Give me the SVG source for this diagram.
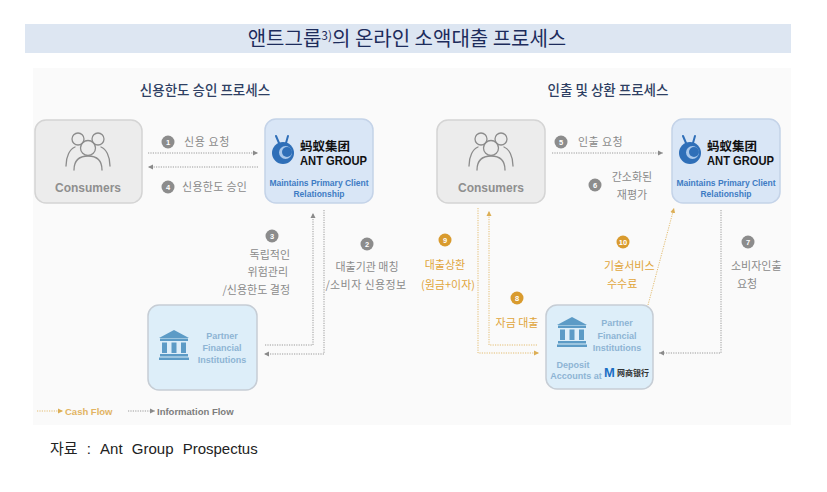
<svg xmlns="http://www.w3.org/2000/svg" xmlns:xlink="http://www.w3.org/1999/xlink" width="827" height="492" viewBox="0 0 827 492">
<style>
.kr{font-family:"Noto Sans CJK KR","Noto Sans",sans-serif}
.en{font-family:"Liberation Sans","Noto Sans CJK KR",sans-serif}
.lbl{font-size:11px;fill:#8a8a8a}
.olbl{font-size:11px;fill:#e0a53a}
.num{font-family:"Liberation Sans",sans-serif;font-size:7.5px;font-weight:bold;fill:#fff;text-anchor:middle}
.gc{fill:#8c8c8c}
.oc{fill:#d99b2e}
.cons{fill:#ececec;stroke:#d4d4d4;stroke-width:1.5}
.ant{fill:#d9e6f6;stroke:#c4d3e8;stroke-width:1.5}
.pfi{fill:#ddeef9;stroke:#c6cdd5;stroke-width:1.5}
.ctext{font-family:"Liberation Sans",sans-serif;font-size:12px;font-weight:bold;fill:#8f8f8f;text-anchor:middle}
.mtext{font-family:"Liberation Sans",sans-serif;font-size:8.5px;font-weight:bold;fill:#3f7cc4;text-anchor:middle}
.ptext{font-family:"Liberation Sans",sans-serif;font-size:9px;font-weight:bold;fill:#8db4d4;text-anchor:middle}
.cn{font-family:"Noto Sans CJK SC",sans-serif;font-size:12.5px;font-weight:bold;fill:#111}
.ag{font-family:"Liberation Sans",sans-serif;font-size:12px;font-weight:bold;fill:#111}
.info{fill:none;stroke:#9a9a9a;stroke-width:1;stroke-dasharray:1.2 1.2}
.cash{fill:none;stroke:#e3bd72;stroke-width:1;stroke-dasharray:1.2 1.2}
.person{fill:none;stroke:#8c8c8c;stroke-width:1.3;stroke-linecap:round}
</style>
<defs>
<marker id="ag" markerUnits="userSpaceOnUse" markerWidth="6" markerHeight="6" refX="5" refY="3" orient="auto">
<path d="M0,0.5 L5,3 L0,5.5 z" fill="#8a8a8a"/>
</marker>
<marker id="ao" markerUnits="userSpaceOnUse" markerWidth="6" markerHeight="6" refX="5" refY="3" orient="auto">
<path d="M0,0.5 L5,3 L0,5.5 z" fill="#dcae55"/>
</marker>
<g id="people">
<circle cx="-10" cy="-12" r="6" class="person"/>
<circle cx="10" cy="-12" r="6" class="person"/>
<path d="M-22,15 C-22,5 -18,-2 -13,-4" class="person"/>
<path d="M22,15 C22,5 18,-2 13,-4" class="person"/>
<path d="M-14,19 C-14,9 -8,5 0,5 C8,5 14,9 14,19 Z" fill="#ececec"/>
<path d="M-14,19 C-14,9 -8,5 0,5 C8,5 14,9 14,19" class="person"/>
<circle cx="0" cy="-3" r="7.5" fill="#ececec" class="person"/>
</g>
<g id="bank" fill="#5c9bc6">
<polygon points="0,8 15,0 30,8"/>
<rect x="1" y="8.5" width="28" height="2.5"/>
<rect x="3" y="12.5" width="5" height="10.5"/>
<rect x="12.5" y="12.5" width="5" height="10.5"/>
<rect x="22" y="12.5" width="5" height="10.5"/>
<rect x="1" y="24" width="28" height="2.5"/>
<rect x="0" y="27.5" width="30" height="2.5"/>
</g>
<g id="antlogo">
<line x1="-4" y1="-10" x2="-7" y2="-17" stroke="#2f6fb8" stroke-width="2" stroke-linecap="round"/>
<line x1="3" y1="-10" x2="5" y2="-17" stroke="#2f6fb8" stroke-width="2" stroke-linecap="round"/>
<circle cx="0" cy="0" r="11" fill="#2f6fb8"/>
<circle cx="2.5" cy="-0.5" r="6.5" fill="#a9c8ec"/>
<circle cx="4" cy="-1" r="5" fill="#2f6fb8"/>
</g>
</defs>

<rect x="0" y="0" width="827" height="492" fill="#ffffff"/>
<rect x="33" y="68" width="758" height="357" fill="#fafafa"/>

<g id="title">
<rect x="25" y="24" width="766" height="29" fill="#dde6f2"/>
<text x="407" y="45.5" class="kr" font-size="20" font-weight="400" fill="#1d2c5c" text-anchor="middle">앤트그룹<tspan font-size="12" dy="-6">3)</tspan><tspan dy="6">의 온라인 소액대출 프로세스</tspan></text>
</g>

<g id="subtitles">
<text x="205" y="95" class="kr" font-size="13.5" font-weight="500" fill="#2e3f63" text-anchor="middle">신용한도 승인 프로세스</text>
<text x="608" y="95" class="kr" font-size="13.5" font-weight="500" fill="#2e3f63" text-anchor="middle">인출 및 상환 프로세스</text>
</g>

<g id="connectors">
<path d="M148,153 H258" class="info" marker-end="url(#ag)"/>
<path d="M258,167 H148" class="info" marker-end="url(#ag)"/>
<path d="M265,345 H313 V213" class="info" marker-end="url(#ag)"/>
<path d="M324,210 V354 H264" class="info" marker-end="url(#ag)"/>
<path d="M552,153 H663" class="info" marker-end="url(#ag)"/>
<path d="M478,208 V353 H539" class="cash" marker-end="url(#ao)"/>
<path d="M537,345 H489 V211" class="cash" marker-end="url(#ao)"/>
<path d="M648,305 L674,208" class="cash" marker-end="url(#ao)"/>
<path d="M721,210 V353 H659" class="info" marker-end="url(#ag)"/>
</g>

<g id="consumers-left">
<rect x="35" y="120" width="107" height="83" rx="11" class="cons"/>
<use xlink:href="#people" x="88" y="151"/>
<text x="88" y="192" class="ctext">Consumers</text>
</g>

<g id="antgroup-left">
<rect x="265" y="119" width="108" height="84" rx="11" class="ant"/>
<use xlink:href="#antlogo" x="283" y="153"/>
<text x="300" y="151" class="cn">蚂蚁集团</text>
<text x="300" y="165" class="ag" textLength="67" lengthAdjust="spacingAndGlyphs">ANT GROUP</text>
<text x="319" y="186" class="mtext">Maintains Primary Client</text>
<text x="319" y="197" class="mtext">Relationship</text>
</g>

<g id="pfi-left">
<rect x="148" y="305" width="109" height="85" rx="11" class="pfi"/>
<use xlink:href="#bank" x="159" y="330"/>
<text x="222" y="339" class="ptext">Partner</text>
<text x="222" y="351" class="ptext">Financial</text>
<text x="222" y="363" class="ptext">Institutions</text>
</g>

<g id="consumers-right">
<rect x="437" y="120" width="108" height="83" rx="11" class="cons"/>
<use xlink:href="#people" x="491" y="151"/>
<text x="491" y="192" class="ctext">Consumers</text>
</g>

<g id="antgroup-right">
<rect x="672" y="119" width="108" height="84" rx="11" class="ant"/>
<use xlink:href="#antlogo" x="690" y="153"/>
<text x="707" y="151" class="cn">蚂蚁集团</text>
<text x="707" y="165" class="ag" textLength="67" lengthAdjust="spacingAndGlyphs">ANT GROUP</text>
<text x="726" y="186" class="mtext">Maintains Primary Client</text>
<text x="726" y="197" class="mtext">Relationship</text>
</g>

<g id="pfi-right">
<rect x="546" y="305" width="107" height="84" rx="11" class="pfi"/>
<use xlink:href="#bank" x="557" y="317"/>
<text x="617" y="326" class="ptext">Partner</text>
<text x="617" y="339" class="ptext">Financial</text>
<text x="617" y="351" class="ptext">Institutions</text>
<text x="573" y="368" class="ptext">Deposit</text>
<text x="576" y="379" class="ptext">Accounts at</text>
<text x="604" y="377" font-family="'Liberation Sans',sans-serif" font-size="13" font-weight="bold" fill="#1a6fc4">M</text>
<text x="617" y="376" font-family="'Noto Sans CJK SC',sans-serif" font-size="8" font-weight="bold" fill="#333">网商银行</text>
</g>

<g id="labels">
<circle cx="168" cy="142" r="6.5" class="gc"/><text x="168" y="144.7" class="num">1</text>
<text x="184" y="146" class="kr lbl" letter-spacing="0.6">신용 요청</text>
<circle cx="168" cy="187" r="6.5" class="gc"/><text x="168" y="189.7" class="num">4</text>
<text x="182" y="191" class="kr lbl" letter-spacing="0.3">신용한도 승인</text>
<circle cx="272" cy="236" r="6.5" class="gc"/><text x="272" y="238.7" class="num">3</text>
<text x="290" y="259" class="kr lbl" text-anchor="end">독립적인</text>
<text x="288" y="276" class="kr lbl" text-anchor="end">위험관리</text>
<text x="290" y="294" class="kr lbl" text-anchor="end">/신용한도 결정</text>
<circle cx="367" cy="244" r="6.5" class="gc"/><text x="367" y="246.7" class="num">2</text>
<text x="367" y="271" class="kr lbl" text-anchor="middle">대출기관 매칭</text>
<text x="366" y="289" class="kr lbl" text-anchor="middle" letter-spacing="0.4">/소비자 신용정보</text>

<circle cx="561" cy="142" r="6.5" class="gc"/><text x="561" y="144.7" class="num">5</text>
<text x="578" y="146" class="kr lbl" letter-spacing="0.4">인출 요청</text>
<circle cx="595" cy="185" r="6.5" class="gc"/><text x="595" y="187.7" class="num">6</text>
<text x="632" y="181" class="kr lbl" text-anchor="middle">간소화된</text>
<text x="632" y="199" class="kr lbl" text-anchor="middle">재평가</text>
<circle cx="445" cy="240" r="6.5" class="oc"/><text x="445" y="242.7" class="num">9</text>
<text x="445" y="269" class="kr olbl" text-anchor="middle">대출상환</text>
<text x="448" y="289" class="kr olbl" text-anchor="middle">(원금+이자)</text>
<circle cx="517" cy="298" r="6.5" class="oc"/><text x="517" y="300.7" class="num">8</text>
<text x="517" y="327" class="kr olbl" text-anchor="middle">자금 대출</text>
<circle cx="623" cy="242" r="6.5" class="oc"/><text x="623" y="244.7" class="num">10</text>
<text x="604" y="270" class="kr olbl">기술서비스</text>
<text x="607" y="288" class="kr olbl">수수료</text>
<circle cx="748" cy="242" r="6.5" class="gc"/><text x="748" y="244.7" class="num">7</text>
<text x="731" y="270" class="kr lbl">소비자인출</text>
<text x="737" y="288" class="kr lbl">요청</text>
</g>

<g id="legend">
<path d="M37,411 H63" class="cash" marker-end="url(#ao)"/>
<text x="65" y="414.5" class="en" font-size="9.5" font-weight="bold" fill="#e2b462">Cash Flow</text>
<path d="M128,411 H155" class="info" marker-end="url(#ag)"/>
<text x="157" y="414.5" class="en" font-size="9.5" font-weight="bold" fill="#7d7d7d">Information Flow</text>
</g>

<g id="source">
<text x="50" y="454" class="en" font-size="15" fill="#222" word-spacing="5">자료 : Ant Group Prospectus</text>
</g>
</svg>
